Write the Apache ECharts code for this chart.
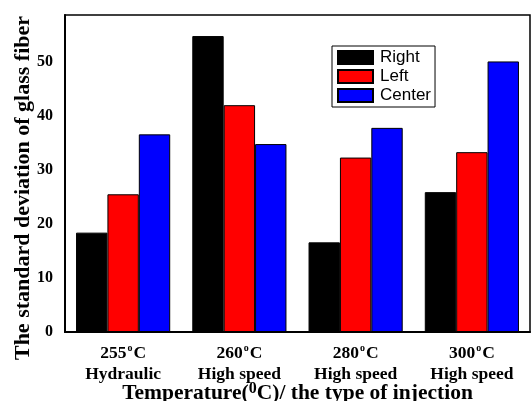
<!DOCTYPE html>
<html>
<head>
<meta charset="utf-8">
<script src="https://cdn.jsdelivr.net/npm/echarts@6/dist/echarts.min.js"></script>
<style>
  html, body { margin: 0; padding: 0; background: #fff; }
  #main { width: 532px; height: 401px; }
</style>
</head>
<body>
<div id="main"></div>
<script>
var categories = ['255°C\nHydraulic', '260°C\nHigh speed', '280°C\nHigh speed', '300°C\nHigh speed'];
var rightValues = [18.4, 54.8, 16.6, 25.9];
var leftValues = [25.5, 42.0, 32.3, 33.3];
var centerValues = [36.6, 34.8, 37.8, 50.1];
var yTicks = [0, 10, 20, 30, 40, 50];

var serif = 'Liberation Serif';
var chart = echarts.init(document.getElementById('main'));

function barSeries(name, data, color) {
    return {
        name: name,
        type: 'bar',
        data: data,
        barGap: '0%',
        barCategoryGap: '19%',
        itemStyle: { color: color, borderColor: '#000', borderWidth: 1 }
    };
}

var option = {
    animation: false,
    grid: {
        left: 65, right: 2, top: 15, bottom: 69,
        outerBoundsMode: 'none',
        containLabel: false,
        show: true, borderColor: '#000', borderWidth: 1.5
    },
    legend: {
        orient: 'vertical',
        left: 332, top: 46,
        icon: 'rect',
        itemWidth: 35, itemHeight: 13, itemGap: 2,
        padding: [3, 4, 3, 5],
        borderColor: '#000', borderWidth: 1,
        textStyle: { fontFamily: 'Liberation Sans', fontSize: 17, color: '#000', padding: [0, 0, 0, 2] },
        data: ['Right', 'Left', 'Center']
    },
    xAxis: {
        type: 'category',
        data: categories,
        axisLine: { lineStyle: { color: '#000', width: 2 } },
        axisTick: { inside: true, length: 4, lineStyle: { color: '#000' } },
        axisLabel: {
            color: '#000', fontFamily: serif, fontWeight: 'bold', fontSize: 17.5,
            lineHeight: 21, margin: 11,
            formatter: function (v) { return v.replace('°', '{s|o}'); },
            rich: {
                s: { fontFamily: serif, fontWeight: 'bold', fontSize: 10, color: '#000', lineHeight: 21, verticalAlign: 'top', padding: [0, 1, 7, 1] }
            }
        },
        name: '{a|Temperature(}{sup|0}{a|C)/ the type of injection}',
        nameLocation: 'middle',
        nameGap: 49,
        nameMoveOverlap: false,
        nameTextStyle: {
            rich: {
                a: { fontFamily: serif, fontWeight: 'bold', fontSize: 21.5, color: '#000' },
                sup: { fontFamily: serif, fontWeight: 'bold', fontSize: 16, color: '#000', verticalAlign: 'top', padding: [0, 0, 9, 0] }
            }
        }
    },
    yAxis: {
        type: 'value',
        min: 0, max: 58.7, interval: 5,
        splitLine: { show: false },
        axisLine: { show: true, lineStyle: { color: '#000', width: 2 } },
        axisTick: { inside: true, length: 5, lineStyle: { color: '#000' } },
        axisLabel: {
            color: '#000', fontFamily: serif, fontWeight: 'bold', fontSize: 16, margin: 12,
            formatter: function (v) { return yTicks.indexOf(v) >= 0 ? String(v) : ''; }
        },
        name: 'The standard deviation of glass fiber',
        nameLocation: 'middle',
        nameGap: 31,
        nameMoveOverlap: false,
        nameTextStyle: { fontFamily: serif, fontWeight: 'bold', fontSize: 22, color: '#000', padding: [0, 29, 0, 0] }
    },
    series: [
        barSeries('Right', rightValues, '#000000'),
        barSeries('Left', leftValues, '#ff0000'),
        barSeries('Center', centerValues, '#0000ff')
    ]
};

chart.setOption(option);
</script>
</body>
</html>
